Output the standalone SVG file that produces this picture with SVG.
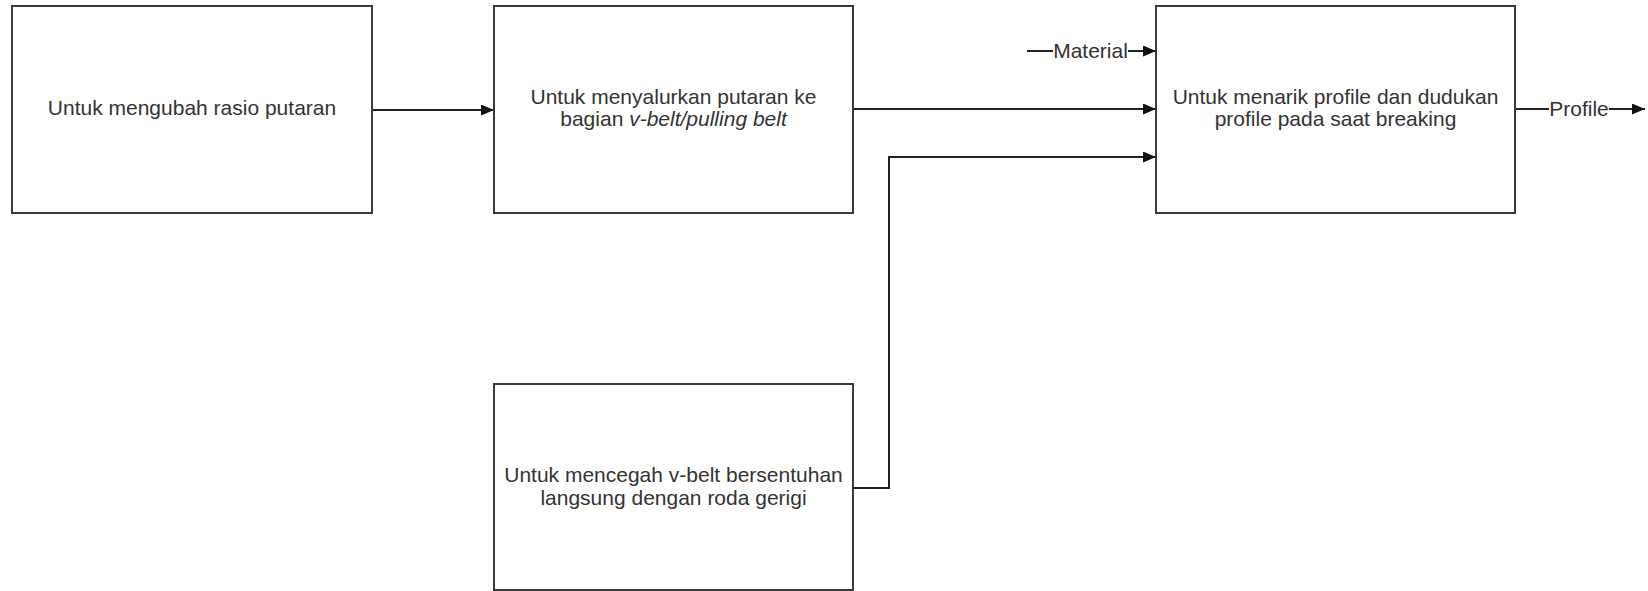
<svg xmlns="http://www.w3.org/2000/svg" width="1648" height="591" viewBox="0 0 1648 591">
  <style>
    .box { fill: #ffffff; stroke: #3a3a3a; stroke-width: 2; }
    .lbl { font-family: "Liberation Sans", Arial, sans-serif; font-size: 21px; fill: #333333; text-anchor: middle; }
    .wire { fill: none; stroke: #222222; stroke-width: 2; }
    .tag { fill: #ffffff; stroke: none; }
  </style>
  <defs>
    <marker id="arrow" viewBox="0 0 13 11" refX="13" refY="5.5" markerWidth="13" markerHeight="11" markerUnits="userSpaceOnUse" orient="auto">
      <path d="M0,0 L13,5.5 L0,11 z" fill="#111111"/>
    </marker>
  </defs>
  <rect width="1648" height="591" fill="#ffffff"/>

  <g id="connectors">
    <path class="wire" d="M372,110 H494" marker-end="url(#arrow)"/>
    <path class="wire" d="M853,109 H1156" marker-end="url(#arrow)"/>
    <path class="wire" d="M853,488 H889 V157 H1156" marker-end="url(#arrow)"/>
    <path class="wire" d="M1027,51 H1156" marker-end="url(#arrow)"/>
    <rect class="tag" x="1053" y="38" width="75" height="26"/>
    <text class="lbl" x="1090.5" y="58">Material</text>
    <path class="wire" d="M1515,109 H1645" marker-end="url(#arrow)"/>
    <rect class="tag" x="1549" y="96" width="60" height="26"/>
    <text class="lbl" x="1579" y="116">Profile</text>
  </g>

  <g id="node-rasio">
    <rect class="box" x="12" y="6" width="360" height="207"/>
    <text class="lbl" x="192" y="115">Untuk mengubah rasio putaran</text>
  </g>

  <g id="node-salur">
    <rect class="box" x="494" y="6" width="359" height="207"/>
    <text class="lbl" x="673.5" y="104">Untuk menyalurkan putaran ke</text>
    <text class="lbl" x="673.5" y="126">bagian <tspan font-style="italic">v-belt/pulling belt</tspan></text>
  </g>

  <g id="node-tarik">
    <rect class="box" x="1156" y="6" width="359" height="207"/>
    <text class="lbl" x="1335.5" y="104">Untuk menarik profile dan dudukan</text>
    <text class="lbl" x="1335.5" y="126">profile pada saat breaking</text>
  </g>

  <g id="node-cegah">
    <rect class="box" x="494" y="384" width="359" height="206"/>
    <text class="lbl" x="673.5" y="482">Untuk mencegah v-belt bersentuhan</text>
    <text class="lbl" x="673.5" y="505">langsung dengan roda gerigi</text>
  </g>
</svg>
